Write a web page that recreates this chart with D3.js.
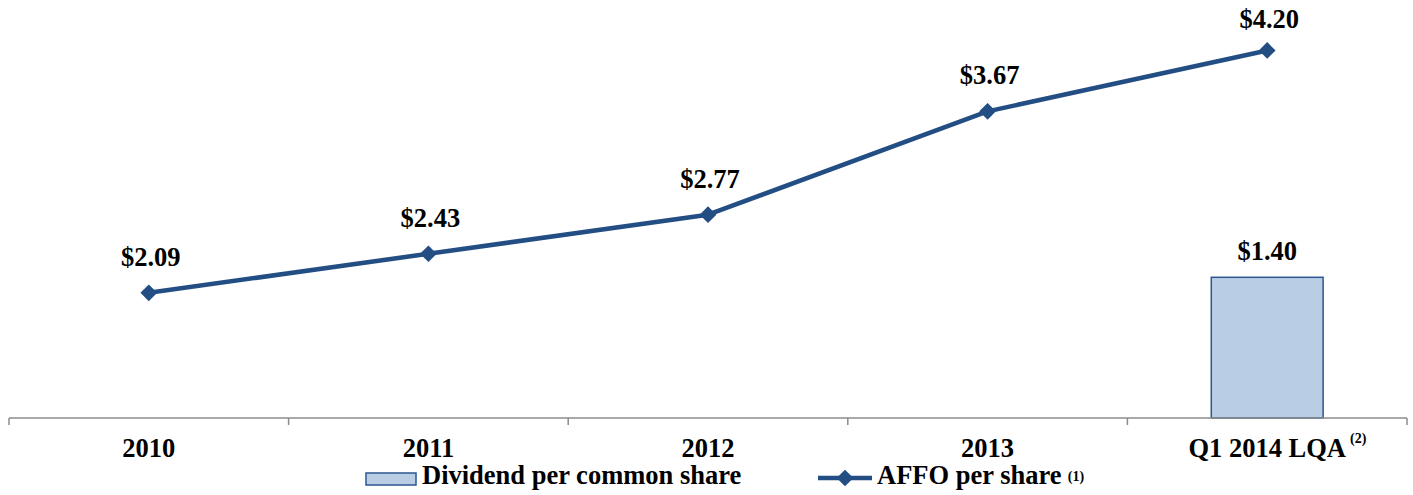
<!DOCTYPE html>
<html>
<head>
<meta charset="utf-8">
<script src="https://cdn.jsdelivr.net/npm/d3@7"></script>
<style>
  html, body { margin: 0; padding: 0; background: #fff; }
  svg { display: block; }
</style>
</head>
<body>
<svg id="chart" width="1413" height="495"></svg>
<script>
// Categories and series
const categories = ["2010", "2011", "2012", "2013", "Q1 2014 LQA"];
const categoryNotes = ["", "", "", "", "(2)"];
const affoPerShare = [2.09, 2.43, 2.77, 3.67, 4.20];
const dividendPerShare = [null, null, null, null, 1.40];
const legendLabels = ["Dividend per common share", "AFFO per share"];
const legendNotes = ["", "(1)"];

const FONT = "'Liberation Serif', 'Times New Roman', serif";
const svg = d3.select("#chart");
const plot = { left: 9, right: 1407, top: 16, bottom: 418 };

// Shared text styling
function styled(sel, size) {
  return sel.attr("font-family", FONT)
    .attr("font-weight", "bold")
    .attr("font-size", size)
    .attr("fill", "#000");
}

const x = d3.scaleBand().domain(categories).range([plot.left, plot.right]).padding(0);
// Primary axis for the dividend bars, secondary axis for the AFFO line
const yBar = d3.scaleLinear().domain([0, 4.0]).range([plot.bottom, plot.top]);
const yLine = d3.scaleLinear().domain([1.0, 4.5]).range([plot.bottom, plot.top]);

const lineColor = "#234e84";
const barFill = "#b9cde5";
const barStroke = "#2c5791";
const fmt = v => "$" + v.toFixed(2);

// Dividend bars
const barData = categories.map((c, i) => ({ c, v: dividendPerShare[i] })).filter(d => d.v != null);
const barW = x.bandwidth() * 0.4;
svg.append("g").selectAll("rect").data(barData).join("rect")
  .attr("x", d => x(d.c) + (x.bandwidth() - barW) / 2)
  .attr("y", d => yBar(d.v))
  .attr("width", barW)
  .attr("height", d => yBar(0) - yBar(d.v))
  .attr("fill", barFill)
  .attr("stroke", barStroke)
  .attr("stroke-width", 1.5);

styled(svg.append("g").selectAll("text").data(barData).join("text"), 26.5)
  .attr("x", d => x(d.c) + x.bandwidth() / 2)
  .attr("y", d => yBar(d.v) - 17)
  .attr("text-anchor", "middle")
  .text(d => fmt(d.v));

// Category axis
const axis = d3.axisBottom(x).tickSize(0).tickFormat("");
const gAxis = svg.append("g").attr("transform", `translate(0,${plot.bottom})`).call(axis);
gAxis.select(".domain").remove();
gAxis.append("line")
  .attr("x1", plot.left).attr("x2", plot.right)
  .attr("stroke", "#8c8c8c").attr("stroke-width", 1.5);
const boundaries = d3.range(categories.length + 1).map(i => plot.left + i * x.step());
gAxis.selectAll(".bound").data(boundaries).join("line")
  .attr("class", "bound")
  .attr("x1", d => d).attr("x2", d => d)
  .attr("y1", 0).attr("y2", 7)
  .attr("stroke", "#8c8c8c").attr("stroke-width", 1.5);

const catLabels = styled(svg.append("g").selectAll("text").data(categories).join("text"), 26.5)
  .attr("x", d => x(d) + x.bandwidth() / 2)
  .attr("y", 457)
  .attr("text-anchor", "middle")
  .text(d => d);
catLabels.each(function(d, i) {
  if (!categoryNotes[i]) return;
  const bb = this.getBBox();
  styled(svg.append("text"), 14)
    .attr("x", bb.x + bb.width + 4)
    .attr("y", 443)
    .text(categoryNotes[i]);
});

// AFFO line
const lineData = categories.map((c, i) => ({ c, v: affoPerShare[i] }));
const cx = d => x(d.c) + x.bandwidth() / 2;
svg.append("path")
  .datum(lineData)
  .attr("fill", "none")
  .attr("stroke", lineColor)
  .attr("stroke-width", 4.5)
  .attr("stroke-linejoin", "round")
  .attr("d", d3.line().x(cx).y(d => yLine(d.v)));

const diamond = d3.symbol().type(d3.symbolSquare).size(140);
svg.append("g").selectAll("path").data(lineData).join("path")
  .attr("d", diamond)
  .attr("transform", d => `translate(${cx(d)},${yLine(d.v)}) rotate(45)`)
  .attr("fill", lineColor);

styled(svg.append("g").selectAll("text").data(lineData).join("text"), 26.5)
  .attr("x", d => cx(d) + 2)
  .attr("y", d => Math.max(yLine(d.v) - 27, 28))
  .attr("text-anchor", "middle")
  .text(d => fmt(d.v));

// Legend
const legend = svg.append("g");
legend.append("rect")
  .attr("x", 366).attr("y", 473).attr("width", 50).attr("height", 12)
  .attr("fill", barFill).attr("stroke", barStroke).attr("stroke-width", 1.5);
styled(legend.append("text"), 26.5).attr("x", 422).attr("y", 484)
  .text(legendLabels[0]);

legend.append("line")
  .attr("x1", 818).attr("x2", 872).attr("y1", 478).attr("y2", 478)
  .attr("stroke", lineColor).attr("stroke-width", 4.5);
legend.append("path")
  .attr("d", diamond)
  .attr("transform", "translate(845,478) rotate(45)")
  .attr("fill", lineColor);
const l2 = styled(legend.append("text"), 26.5).attr("x", 877).attr("y", 484)
  .text(legendLabels[1]);
const bb2 = l2.node().getBBox();
styled(legend.append("text"), 14).attr("x", bb2.x + bb2.width + 6).attr("y", 481)
  .text(legendNotes[1]);
</script>
</body>
</html>
